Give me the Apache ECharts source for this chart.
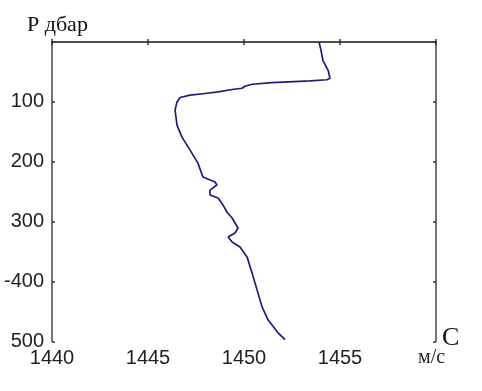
<!DOCTYPE html>
<html>
<head>
<meta charset="utf-8">
<script src="https://cdn.jsdelivr.net/npm/echarts@6/dist/echarts.min.js"></script>
<style>html,body{margin:0;padding:0;background:#fff;}#c{width:482px;height:391px;}</style>
</head>
<body>
<div id="c"></div>
<script>
const speeds = [1453.91,1454.01,1454.11,1454.38,1454.48,1454.32,1453.44,1451.46,1450.42,1450.05,1449.90,1449.38,1448.65,1447.97,1447.19,1446.67,1446.51,1446.41,1446.51,1446.77,1447.19,1447.60,1447.86,1448.49,1448.59,1448.23,1448.23,1448.65,1448.91,1449.11,1449.38,1449.69,1449.53,1449.17,1449.38,1449.79,1450.16,1450.42,1450.68,1450.94,1451.25,1451.77,1452.14];
const pressures = [0.5,13.8,30.5,47.2,60.5,63,65,67.7,70.5,73.8,77.2,79.3,83.3,86,88.8,92.7,100,113.8,138.8,158.8,180.5,202.2,225.5,233.8,238.8,247.2,255.5,260.5,272.2,283.8,293.8,310.5,318.8,325.5,333.8,342.2,358.8,385.5,413.8,442.2,463.8,485.5,497];
const xTicks = [1440,1445,1450,1455];
const yTickLabels = {100:'100',200:'200',300:'300',400:'-400',500:'500'};
const xMin = 1440, xMax = 1460, yMin = 0, yMax = 500;

const chart = echarts.init(document.getElementById('c'));
const axisLine = {show:true, lineStyle:{color:'#444', width:1.5}};
const tick = {show:true, inside:true, length:3, lineStyle:{color:'#333', width:1.5}};
const lblFont = {fontFamily:'"Liberation Sans", Arial, sans-serif', fontSize:20, color:'#222'};
chart.setOption({
  animation:false,
  grid:{left:52, right:46, top:42, bottom:49.5},
  xAxis:[
    {type:'value', min:xMin, max:xMax, interval:5, position:'bottom', axisLine, axisTick:tick, splitLine:{show:false},
     axisLabel:Object.assign({margin:7, formatter:v=> xTicks.includes(v)? String(v) : ''}, lblFont)},
    {type:'value', min:xMin, max:xMax, interval:5, position:'top', axisLine, axisTick:tick, splitLine:{show:false}, axisLabel:{show:false}}
  ],
  yAxis:[
    {type:'value', min:yMin, max:yMax, interval:100, inverse:true, position:'left', axisLine, axisTick:tick, splitLine:{show:false},
     axisLabel:Object.assign({margin:8, formatter:v=> yTickLabels[v] || ''}, lblFont)},
    {type:'value', min:yMin, max:yMax, interval:100, inverse:true, position:'right', axisLine, axisTick:tick, splitLine:{show:false}, axisLabel:{show:false}}
  ],
  series:[{
    type:'line', xAxisIndex:0, yAxisIndex:0, showSymbol:false, symbol:'none',
    lineStyle:{color:'#1c1c80', width:1.7},
    data: speeds.map((s,i)=>[s, pressures[i]])
  }],
  graphic:[
    {type:'text', left:27, top:14, style:{text:'P дбар', font:'22px "Liberation Serif", "Times New Roman", serif', fill:'#111'}},
    {type:'text', left:442, top:325, style:{text:'C', font:'26px "Liberation Serif", "Times New Roman", serif', fill:'#111'}},
    {type:'text', left:418, top:348, style:{text:'м/с', font:'20px "Liberation Serif", "Times New Roman", serif', fill:'#222'}}
  ]
});
</script>
</body>
</html>
